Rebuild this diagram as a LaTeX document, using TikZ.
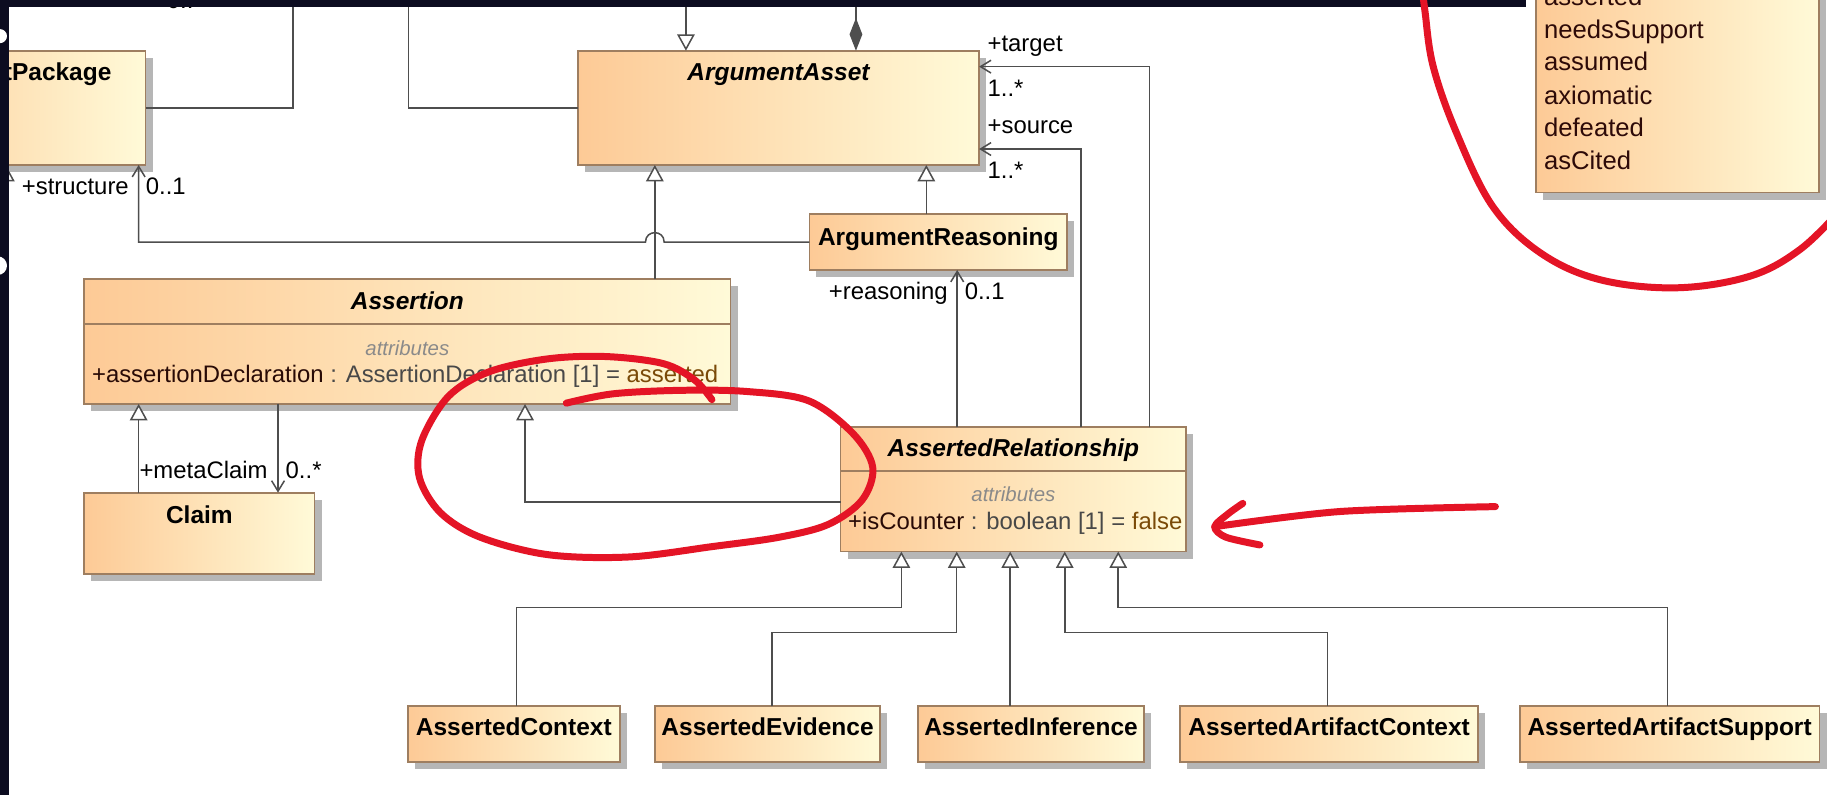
\documentclass[tikz,border=0pt]{standalone}
\usepackage{fontspec}
\setmainfont{Liberation Sans}
\usetikzlibrary{arrows.meta,calc}

\definecolor{boxl}{RGB}{253,202,150}
\definecolor{boxr}{RGB}{255,250,216}
\definecolor{boxedge}{RGB}{158,126,96}
\definecolor{shadowc}{RGB}{182,182,182}
\definecolor{linec}{RGB}{78,78,78}
\definecolor{chrome}{RGB}{12,12,32}
\definecolor{markred}{RGB}{228,20,38}
\definecolor{attrname}{RGB}{40,10,6}
\definecolor{attrtype}{RGB}{72,72,72}
\definecolor{attrval}{RGB}{122,74,8}
\definecolor{headgray}{RGB}{138,138,138}
\definecolor{enumtxt}{RGB}{45,10,8}

\tikzset{
  classbox/.style={draw=boxedge, line width=1.5pt, left color=boxl, right color=boxr, inner sep=0pt, outer sep=0pt},
  divider/.style={draw=boxedge, line width=1.5pt},
  conn/.style={draw=linec, line width=1.3pt},
  gen/.style={conn, -{Triangle[length=14pt,width=15pt,fill=white]}},
  nav/.style={conn, -{Straight Barb[length=9pt,width=11pt]}},
  comp/.style={conn, {Diamond[length=28pt,width=11pt]}-},
  txt/.style={inner sep=0pt, font=\fontsize{20.5}{24}\selectfont, text=black},
  cname/.style={inner sep=0pt, font=\fontsize{21}{25}\selectfont\bfseries, text=black},
  aname/.style={inner sep=0pt, font=\fontsize{21}{25}\selectfont\bfseries\itshape, text=black},
  comphead/.style={inner sep=0pt, font=\fontsize{17.5}{20}\selectfont\itshape, text=headgray},
  literal/.style={inner sep=0pt, font=\fontsize{22}{26}\selectfont, text=enumtxt, anchor=base west},
  redmark/.style={draw=markred, line width=6pt, line cap=round, line join=round},
}

% class box with its offset shadow: name, left, top, right, bottom
\newcommand{\umlbox}[5]{%
  \fill[shadowc] (#2+6,#3+6) rectangle (#4+6,#5+6);
  \pgfmathsetmacro{\boxw}{#4-#2}%
  \pgfmathsetmacro{\boxh}{#5-#3}%
  \node[classbox, minimum width=\boxw pt, minimum height=\boxh pt, anchor=north west] (#1) at (#2,#3) {};%
}

\begin{document}
\begin{tikzpicture}[x=1pt,y=-1pt]
\useasboundingbox (0,0) rectangle (1568,682);
\fill[white] (0,0) rectangle (1568,682);
\begin{scope}
\clip (0,0) rectangle (1568,682);

% ---- classes
\umlbox{pkg}{-111}{43.5}{124.9}{141.6}
\umlbox{aa}{495.9}{43.5}{840.3}{141.6}
\umlbox{ar}{694.7}{183.7}{916}{231.7}
\umlbox{as}{72.2}{239.7}{627}{346.7}
\umlbox{claim}{72.2}{422.8}{270}{492.6}
\umlbox{arel}{721.4}{366.7}{1018}{473.4}
\umlbox{actx}{349.9}{605.6}{532}{653.7}
\umlbox{aevd}{562.1}{605.6}{755.4}{653.7}
\umlbox{ainf}{787.8}{605.6}{981.9}{653.7}
\umlbox{aactx}{1012.8}{605.6}{1268.6}{653.7}
\umlbox{aasup}{1304.2}{605.6}{1561.6}{653.7}
\umlbox{enum}{1318.2}{-20}{1561}{165.3}

% compartment dividers
\coordinate (asdiv) at (0,278);
\draw[divider] (as.west |- asdiv) -- (as.east |- asdiv);
\coordinate (areldiv) at (0,404);
\draw[divider] (arel.west |- areldiv) -- (arel.east |- areldiv);

% ---- connectors leaving through the top edge
\coordinate (upA) at (251.6,-5);
\coordinate (upB) at (350.6,-5);
\coordinate (upG) at (588.7,-5);
\coordinate (upC) at (734.6,-5);
\draw[conn] (pkg.east) -| (upA);
\draw[conn] (aa.west) -| (upB);
\draw[gen] (upG) -- (upG |- aa.north);
\draw[comp] (upC |- aa.north) -- (upC);

% ---- generalizations to ArgumentAsset
\coordinate (xAs) at (562,0);
\coordinate (xAr) at (795,0);
\draw[gen] (as.north -| xAs) -- (aa.south -| xAs);
\draw[gen] (ar.north -| xAr) -- (aa.south -| xAr);

% ---- structure association, hopping over the Assertion line
\coordinate (hopR) at ($(ar.west -| xAs)+(8,0)$);
\coordinate (hopL) at ($(ar.west -| xAs)+(-8,0)$);
\coordinate (xSt) at (119,0);
\draw[nav] (ar.west) -- (hopR) .. controls +(0,-10.7) and +(0,-10.7) .. (hopL) -| (pkg.south -| xSt);

% generalization into the package, mostly behind the window edge
\coordinate (xHid) at (5,300);
\draw[gen] (xHid) -- (pkg.south -| xHid);

% ---- target / source / reasoning
\coordinate (tgt) at (986.4,57.2);
\coordinate (src) at (927.7,127.9);
\coordinate (xRe) at (821.5,0);
\draw[nav] (arel.north -| tgt) -- (tgt) -- (aa.east |- tgt);
\draw[nav] (arel.north -| src) -- (src) -- (aa.east |- src);
\draw[nav] (arel.north -| xRe) -- (ar.south -| xRe);

% ---- Claim
\coordinate (xCg) at (119,0);
\coordinate (xMc) at (238.6,0);
\draw[gen] (claim.north -| xCg) -- (as.south -| xCg);
\draw[nav] (as.south -| xMc) -- (claim.north -| xMc);

% ---- AssertedRelationship is an Assertion
\coordinate (relBend) at (450.6,431);
\draw[gen] (arel.west |- relBend) -- (relBend) -- (as.south -| relBend);

% ---- specializations of AssertedRelationship
\coordinate (t1) at (773.6,0);
\coordinate (t2) at (821.1,0);
\coordinate (t3) at (867,0);
\coordinate (t4) at (913.8,0);
\coordinate (t5) at (959.7,0);
\coordinate (b1) at (443.3,521.2);
\coordinate (b2) at (662.7,543);
\coordinate (b4) at (1139.5,543);
\coordinate (b5) at (1431,521.2);
\draw[gen] (actx.north -| b1) -- (b1) -| (arel.south -| t1);
\draw[gen] (aevd.north -| b2) -- (b2) -| (arel.south -| t2);
\draw[gen] (ainf.north -| t3) -- (arel.south -| t3);
\draw[gen] (aactx.north -| b4) -- (b4) -| (arel.south -| t4);
\draw[gen] (aasup.north -| b5) -- (b5) -| (arel.south -| t5);

% ---- class names and attributes
\node[cname, anchor=base east] (pkgN) at (95.8,68.7) {ArgumentPackage};
\node[aname, anchor=base] (aaN) at (668.1,68.7) {ArgumentAsset};
\node[cname, anchor=base] (arN) at (805.3,210.3) {ArgumentReasoning};
\node[aname, anchor=base] (asN) at (349.6,266) {Assertion};
\node[comphead, anchor=base] (asH) at (349.6,304.7) {attributes};
\node[txt, anchor=base west] (asA) at (78.8,328.4) {\textcolor{attrname}{+assertionDeclaration} \textcolor{attrtype}{: AssertionDeclaration [1] =} \textcolor{attrval}{asserted}};
\node[cname, anchor=base] (claimN) at (171.1,449) {Claim};
\node[aname, anchor=base] (arelN) at (869.7,391.9) {AssertedRelationship};
\node[comphead, anchor=base] (arelH) at (869.7,430.5) {attributes};
\node[txt, anchor=base west] (arelA) at (727.7,454.8) {\textcolor{attrname}{+isCounter} \textcolor{attrtype}{: boolean [1] =} \textcolor{attrval}{false}};
\coordinate (subBase) at (0,630.8);
\node[cname, anchor=base] (actxN) at (actx.north |- subBase) {AssertedContext};
\node[cname, anchor=base] (aevdN) at (aevd.north |- subBase) {AssertedEvidence};
\node[cname, anchor=base] (ainfN) at (ainf.north |- subBase) {AssertedInference};
\node[cname, anchor=base] (aactxN) at (aactx.north |- subBase) {AssertedArtifactContext};
\node[cname, anchor=base] (aasupN) at (aasup.north |- subBase) {AssertedArtifactSupport};

% enumeration literals
\node[literal] (l0) at (1325,4.7) {asserted};
\node[literal] (l1) at (1325,32.9) {needsSupport};
\node[literal] (l2) at (1325,60.9) {assumed};
\node[literal] (l3) at (1325,89.3) {axiomatic};
\node[literal] (l4) at (1325,117.3) {defeated};
\node[literal] (l5) at (1325,145.9) {asCited};

% ---- role names and multiplicities
\node[txt, anchor=base east] (stR) at (110.7,166.8) {+structure};
\node[txt, anchor=base west] (stM) at (125,166.8) {0..1};
\node[txt, anchor=base west] (tgR) at (847.4,44.3) {+target};
\node[txt, anchor=base west] (tgM) at (847.4,83) {1..*};
\node[txt, anchor=base west] (srR) at (847.4,114.4) {+source};
\node[txt, anchor=base west] (srM) at (847.4,153) {1..*};
\node[txt, anchor=base east] (reR) at (813.6,257) {+reasoning};
\node[txt, anchor=base west] (reM) at (827.8,257) {0..1};
\node[txt, anchor=base east] (mcR) at (229.9,410.5) {+metaClaim};
\node[txt, anchor=base west] (mcM) at (245,410.5) {0..*};
\node[txt, anchor=base west] (topM) at (143,7.5) {0..*};

% ---- window edges
\fill[chrome] (0,0) rectangle (1310,6);
\fill[chrome] (0,0) rectangle (8,682);
\fill[white] (0,31) circle (6);
\fill[white] (-2,228) circle (8);

% ---- hand-drawn marks
\draw[redmark] plot[smooth, tension=0.6] coordinates {(1221,-8) (1223,10) (1230,57) (1250,114) (1281,177) (1322,217) (1373,240) (1439,247) (1502,237) (1545,214) (1580,180)};
\draw[redmark] plot[smooth, tension=0.55] coordinates {(486,346) (526,338) (584,335) (641,336) (694,344) (732,372) (749,401) (740,429) (711,450) (669,461) (612,469) (540,478) (470,476) (412,461) (378,440) (360,410) (362,378) (385,340) (420,319) (470,308) (520,306) (569,312) (596,326) (611,343)};
\draw[redmark] plot[smooth, tension=0.5] coordinates {(1283.4,434.8) (1150,439) (1042.5,452)};
\draw[redmark] plot[smooth, tension=0.5] coordinates {(1066.6,432) (1054,441) (1042.5,452) (1052,461) (1081.3,467.7)};
\end{scope}
\end{tikzpicture}
\end{document}
